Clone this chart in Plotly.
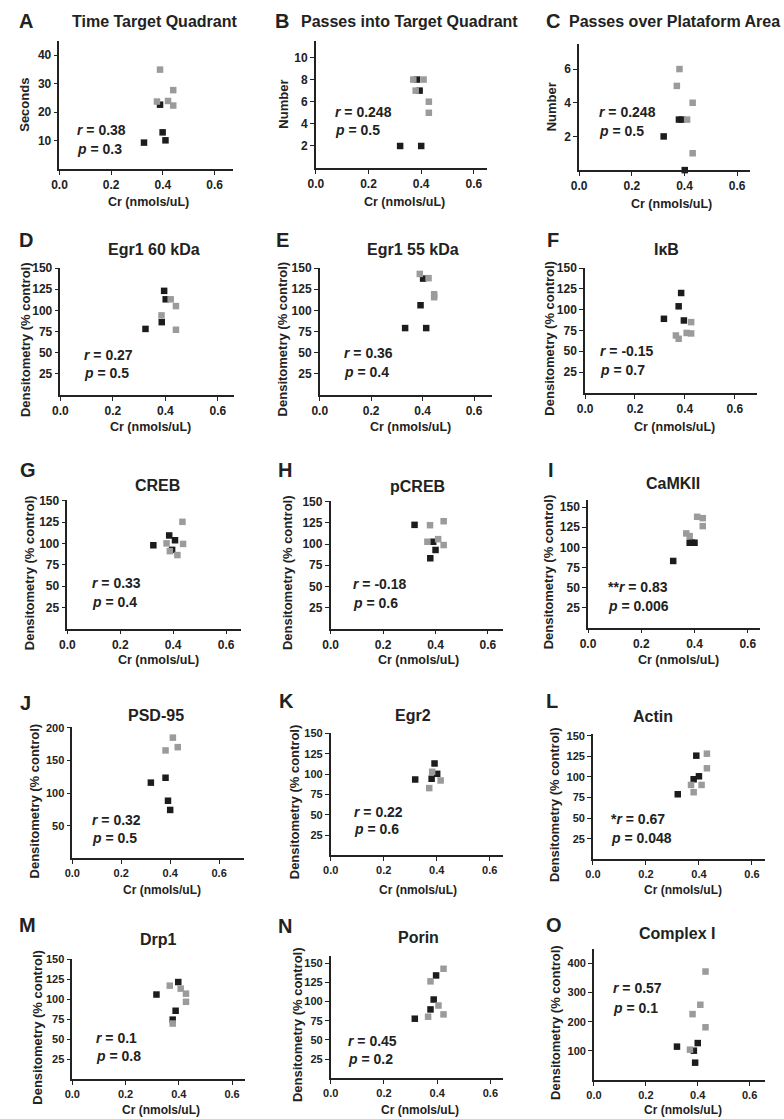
import plotly.graph_objects as go

W, H = 784, 1119

# ---------------- data (Cr in nmols/uL vs measure) ----------------
A_black_cr = [0.327, 0.389, 0.399, 0.41]
A_black_val = [9.3, 22.6, 12.9, 10.1]
A_gray_cr = [0.377, 0.389, 0.42, 0.44, 0.44]
A_gray_val = [23.7, 34.9, 23.9, 27.7, 22.3]

B_black_cr = [0.32, 0.384, 0.394, 0.40]
B_black_val = [2, 8, 7, 2]
B_gray_cr = [0.37, 0.409, 0.379, 0.429, 0.429]
B_gray_val = [8, 8, 7, 6, 5]

C_black_cr = [0.321, 0.379, 0.391, 0.401]
C_black_val = [2, 3, 3, 0]
C_gray_cr = [0.381, 0.371, 0.431, 0.41, 0.431]
C_gray_val = [6, 5, 4, 3, 1]

D_black_cr = [0.395, 0.401, 0.386, 0.324]
D_black_val = [123, 113, 86, 78]
D_gray_cr = [0.42, 0.44, 0.385, 0.44]
D_gray_val = [113, 105, 94, 77]

E_black_cr = [0.402, 0.392, 0.332, 0.414]
E_black_val = [137.5, 106, 79, 79]
E_gray_cr = [0.389, 0.423, 0.445, 0.445]
E_gray_val = [143, 138, 119, 115.5]

F_black_cr = [0.385, 0.375, 0.316, 0.396]
F_black_val = [120, 104, 89, 87]
F_gray_cr = [0.425, 0.364, 0.375, 0.407, 0.425]
F_gray_val = [85, 69, 65, 72, 71.4]

G_black_cr = [0.325, 0.385, 0.407, 0.396]
G_black_val = [97.8, 109.3, 103.7, 92.4]
G_gray_cr = [0.435, 0.375, 0.3875, 0.4375, 0.416]
G_gray_val = [125.3, 100, 90.9, 99.4, 86.3]

H_black_cr = [0.32, 0.391, 0.40, 0.38]
H_black_val = [122.7, 102.7, 93, 83.2]
H_gray_cr = [0.379, 0.369, 0.41, 0.431, 0.431]
H_gray_val = [122.3, 102.7, 105.8, 127, 98.8]

I_black_cr = [0.32, 0.382, 0.39, 0.40]
I_black_val = [83, 105.7, 105.7, 105.7]
I_gray_cr = [0.369, 0.382, 0.41, 0.431, 0.431]
I_gray_val = [117.3, 114, 138, 136.3, 126.4]

J_black_cr = [0.321, 0.381, 0.391, 0.40]
J_black_val = [116, 123.5, 88.3, 74.2]
J_gray_cr = [0.411, 0.381, 0.431]
J_gray_val = [184.9, 165.3, 170.3]

K_black_cr = [0.319, 0.392, 0.402, 0.381]
K_black_val = [93.4, 113.1, 100.4, 94.3]
K_gray_cr = [0.383, 0.372, 0.415]
K_gray_val = [102.9, 82.8, 92.2]

L_black_cr = [0.32, 0.39, 0.38, 0.40]
L_black_val = [79, 125.8, 97.2, 100.8]
L_gray_cr = [0.43, 0.43, 0.37, 0.38, 0.41]
L_gray_val = [128.2, 110.5, 90.3, 81.5, 90.3]

M_black_cr = [0.316, 0.398, 0.388, 0.377]
M_black_val = [105.9, 121.5, 85.6, 74.5]
M_gray_cr = [0.366, 0.407, 0.427, 0.427, 0.377]
M_gray_val = [117, 113.3, 107, 96.8, 69.6]

N_black_cr = [0.316, 0.396, 0.387, 0.375]
N_black_val = [77.6, 134, 102.6, 89.7]
N_gray_cr = [0.424, 0.375, 0.366, 0.405, 0.424]
N_gray_val = [142.7, 126.3, 80.2, 94.8, 83.2]

O_black_cr = [0.32, 0.385, 0.40, 0.39]
O_black_val = [114.8, 101, 127, 60]
O_gray_cr = [0.37, 0.38, 0.41, 0.43, 0.43]
O_gray_val = [104.5, 226, 258, 181, 371.6]

titles = {
    "A": "Time Target Quadrant", "B": "Passes into Target Quadrant",
    "C": "Passes over Plataform Area", "D": "Egr1 60 kDa", "E": "Egr1 55 kDa",
    "F": "IκB", "G": "CREB", "H": "pCREB", "I": "CaMKII", "J": "PSD-95",
    "K": "Egr2", "L": "Actin", "M": "Drp1", "N": "Porin", "O": "Complex I",
}
ytitles = {"A": "Seconds", "B": "Number", "C": "Number"}
r_texts = {"A": "0.38", "B": "0.248", "C": "0.248", "D": "0.27", "E": "0.36",
           "F": "-0.15", "G": "0.33", "H": "-0.18", "I": "0.83", "J": "0.32",
           "K": "0.22", "L": "0.67", "M": "0.1", "N": "0.45", "O": "0.57"}
r_stars = {"I": "**", "L": "*"}
p_texts = {"A": "0.3", "B": "0.5", "C": "0.5", "D": "0.5", "E": "0.4",
           "F": "0.7", "G": "0.4", "H": "0.6", "I": "0.006", "J": "0.5",
           "K": "0.6", "L": "0.048", "M": "0.8", "N": "0.2", "O": "0.1"}
yticks = {"A": [10, 20, 30, 40], "B": [2, 4, 6, 8, 10], "C": [2, 4, 6],
          "J": [50, 100, 150, 200], "O": [100, 200, 300, 400]}
default_yticks = [25, 50, 75, 100, 125, 150]
x_ticks = [0.0, 0.2, 0.4, 0.6]

data = {k: (globals()[k + "_black_cr"], globals()[k + "_black_val"],
            globals()[k + "_gray_cr"], globals()[k + "_gray_val"]) for k in titles}

# ---------------- layout geometry (pixels) ----------------
# key: (L, R, T, B, xmax, ymax, text_x, r_y, p_y, letter_x, letter_y, title_x, title_y, ytitle_x, xtitle_x, xtitle_y)
geom = {
    "A": (52, 227, 35, 164, 0.67, 45, 0.06, 13.8, 7.2, 9, 15, 148, 16, 17, 142, 197),
    "B": (311, 484, 35, 163, 0.65, 11.5, 0.067, 5.1, 3.4, 268, 15, 406, 16, 278, 401, 197),
    "C": (577, 750, 38, 165, 0.65, 7.5, 0.067, 3.47, 2.35, 542, 15, 673, 16, 550, 670, 199),
    "D": (53, 228, 263, 391, 0.66, 150.5, 0.083, 47, 26, 9, 235, 148, 245, 17, 144, 423),
    "E": (315, 489, 263, 391, 0.67, 150.5, 0.085, 49, 27, 269, 235, 409, 245, 277, 407, 423),
    "F": (583, 757, 263, 389, 0.69, 150.5, 0.052, 50, 27, 543, 235, 665, 245, 547, 673, 423),
    "G": (60, 235, 497, 626, 0.655, 150.5, 0.086, 54, 31, 10, 467, 151, 482, 22, 152, 658),
    "H": (326, 500, 498, 626, 0.657, 150.5, 0.079, 52.7, 30, 271, 467, 414, 483, 283, 415, 658),
    "I": (586, 760, 497, 625, 0.647, 158.5, 0.067, 50.6, 27, 544, 467, 672, 480, 547, 677, 658),
    "J": (65, 238, 725, 857, 0.70, 201, 0.073, 59.5, 32, 10, 701, 150, 713, 27, 156, 889),
    "K": (326, 500, 731, 854, 0.65, 150.5, 0.079, 53, 32, 272, 699, 409, 713, 289, 414, 889),
    "L": (591, 765, 732, 858, 0.65, 152, 0.06, 49, 26, 542, 699, 652, 714, 552, 682, 889),
    "M": (65, 239, 958, 1079, 0.647, 150.5, 0.082, 52, 28.7, 9, 924, 152, 939, 30, 155, 1110),
    "N": (326, 500, 955, 1078, 0.647, 159.5, 0.056, 49, 24.5, 271, 925, 415, 937, 292, 416, 1110),
    "O": (592, 765, 948, 1080, 0.66, 449, 0.065, 315, 246, 542, 924, 676, 933, 553, 682, 1110),
}

FONT = "Liberation Sans, Arial, sans-serif"
BLACK = "#1c1c1c"
GRAY = "#9b9b9b"

fig = go.Figure()
annotations = []
layout = dict(
    width=W, height=H, margin=dict(l=0, r=0, t=0, b=0),
    paper_bgcolor="white", plot_bgcolor="white", showlegend=False,
    font=dict(family=FONT, color="#222222"),
)


def px_x(v):
    return v / W


def px_y(v):
    return 1 - v / H


for i, key in enumerate(titles):
    n = i + 1
    xa = "x" if n == 1 else f"x{n}"
    ya = "y" if n == 1 else f"y{n}"
    L, R, T, B, xmax, ymax, tx, ry, py, lx, ly, ttx, tty, ytx, xtx, xty = geom[key]
    bcr, bval, gcr, gval = data[key]
    tick_size = 12 if n <= 9 else 11
    fig.add_trace(go.Scatter(x=bcr, y=bval, xaxis=xa, yaxis=ya, mode="markers",
                             marker=dict(symbol="square", size=6.5, color=BLACK),
                             cliponaxis=False, name="black"))
    fig.add_trace(go.Scatter(x=gcr, y=gval, xaxis=xa, yaxis=ya, mode="markers",
                             marker=dict(symbol="square", size=6.5, color=GRAY),
                             cliponaxis=False, name="gray"))
    axis_common = dict(showgrid=False, zeroline=False, showline=True, linecolor="#222222",
                       linewidth=1.6, ticks="outside", ticklen=4, tickwidth=1.4,
                       tickcolor="#222222",
                       tickfont=dict(family=FONT, size=tick_size, color="#222222", weight="bold"))
    layout["xaxis" if n == 1 else f"xaxis{n}"] = dict(
        domain=[px_x(L), px_x(R)], range=[0, xmax], anchor=ya,
        tickvals=x_ticks, ticktext=[f"{v:.1f}" for v in x_ticks], **axis_common)
    layout["yaxis" if n == 1 else f"yaxis{n}"] = dict(
        domain=[px_y(B), px_y(T)], range=[0, ymax], anchor=xa,
        tickvals=yticks.get(key, default_yticks), **axis_common)
    # in-plot statistics
    annotations.append(dict(x=tx, y=ry, xref=xa, yref=ya, xanchor="left", yanchor="middle",
                            showarrow=False,
                            text=f"<b>{r_stars.get(key, '')}<i>r</i> = {r_texts[key]}</b>",
                            font=dict(size=14, family=FONT, color="#222222")))
    annotations.append(dict(x=tx, y=py, xref=xa, yref=ya, xanchor="left", yanchor="middle",
                            showarrow=False, text=f"<b><i>p</i> = {p_texts[key]}</b>",
                            font=dict(size=14, family=FONT, color="#222222")))
    # panel letter and title
    annotations.append(dict(x=px_x(lx), y=px_y(ly), xref="paper", yref="paper", xanchor="left",
                            yanchor="middle", showarrow=False, text=f"<b>{key}</b>",
                            font=dict(size=20, family=FONT, color="#222222")))
    annotations.append(dict(x=px_x(ttx), y=px_y(tty), xref="paper", yref="paper",
                            xanchor="center", yanchor="middle", showarrow=False,
                            text=f"<b>{titles[key]}</b>",
                            font=dict(size=16, family=FONT, color="#222222")))
    # axis titles
    yt = ytitles.get(key, "Densitometry (% control)")
    annotations.append(dict(x=px_x(ytx), y=px_y((T + B) / 2 + (0 if key in ytitles else 8)),
                            xref="paper", yref="paper", xanchor="center", yanchor="middle",
                            textangle=-90, showarrow=False, text=f"<b>{yt}</b>",
                            font=dict(size=13, family=FONT, color="#222222")))
    annotations.append(dict(x=px_x(xtx), y=px_y(xty), xref="paper", yref="paper",
                            xanchor="center", yanchor="middle", showarrow=False,
                            text="<b>Cr (nmols/uL)</b>",
                            font=dict(size=12.5 if n <= 9 else 12, family=FONT, color="#222222")))

layout["annotations"] = annotations
fig.update_layout(**layout)
fig.write_html("out.html", config={"displayModeBar": False},
               post_script="document.body.style.margin='0';")
